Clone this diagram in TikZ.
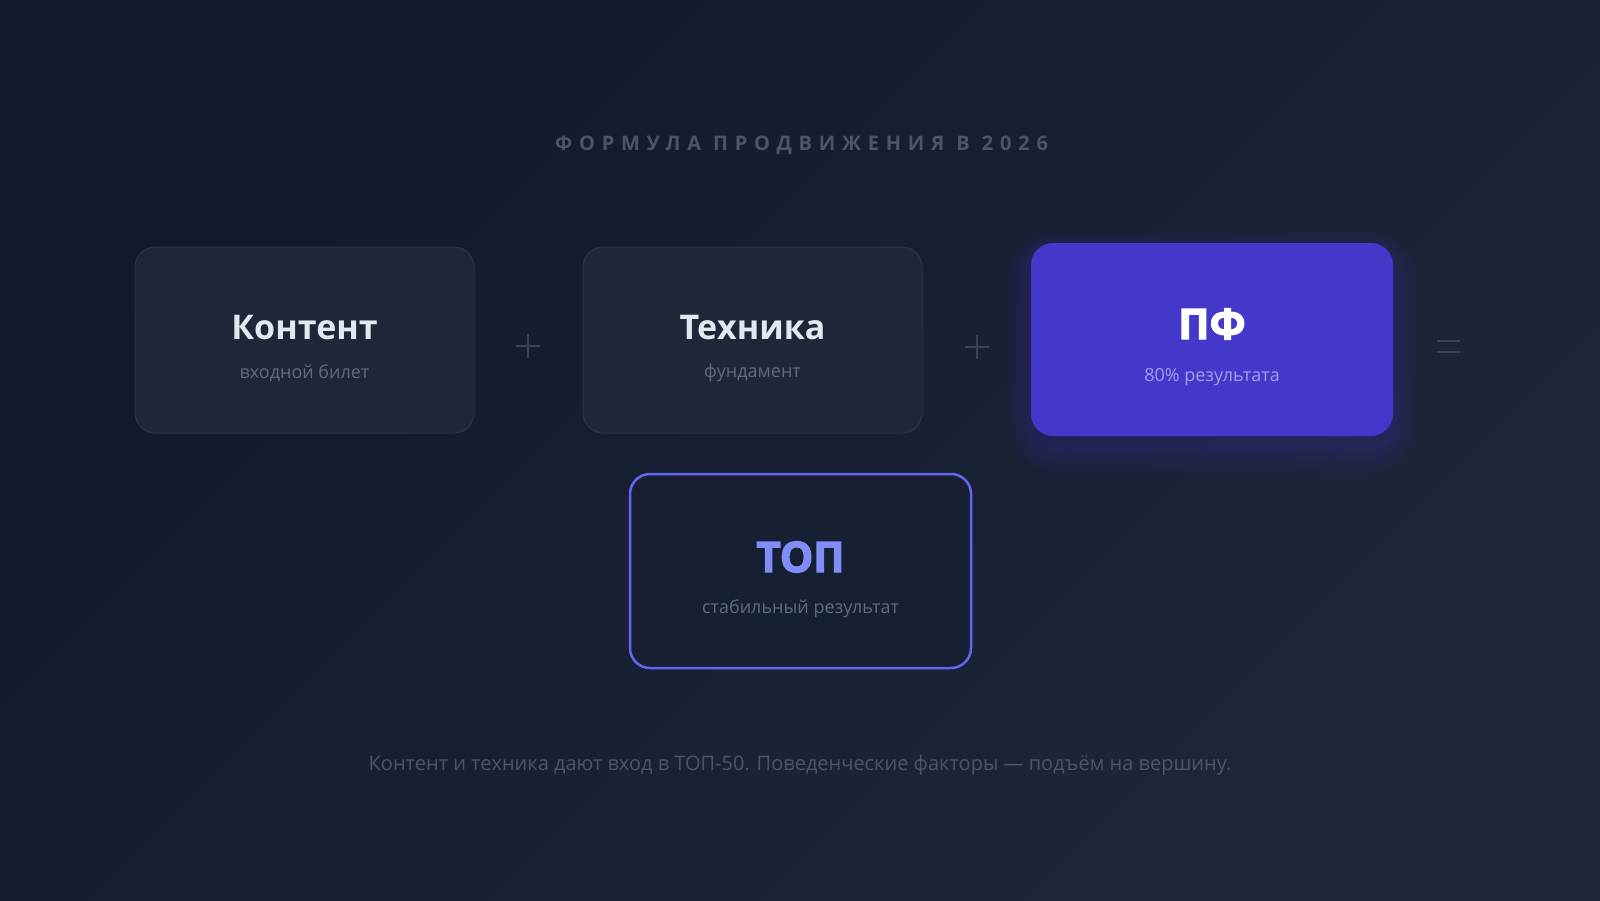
\documentclass[tikz,border=0pt]{standalone}
\usepackage{fontspec}
\setmainfont{Open Sans}
\newfontfamily\spacedfont[LetterSpace=34]{Open Sans}
\newfontfamily\heavyfont[BoldFeatures={FakeBold=3}]{Open Sans}
\usetikzlibrary{calc}
\definecolor{bgA}{HTML}{111A2D}
\definecolor{bgB}{HTML}{1D2739}
\definecolor{cardfill}{HTML}{1E2637}
\definecolor{cardline}{HTML}{2B3446}
\definecolor{headtxt}{HTML}{E2E8F0}
\definecolor{subtxt}{HTML}{5F6B7E}
\definecolor{pffill}{HTML}{4338CA}
\definecolor{pfsub}{HTML}{A39DE8}
\definecolor{topline}{HTML}{6366F1}
\definecolor{toptxt}{HTML}{818CF8}
\definecolor{topfill}{HTML}{171F33}
\definecolor{dimtxt}{HTML}{4B5563}
\definecolor{optxt}{HTML}{3A4354}
\definecolor{glowc}{HTML}{4F46E5}
\begin{document}
\begin{tikzpicture}[x=1pt,y=-1pt,
  card/.style={rounded corners=20pt, fill=cardfill, draw=cardline, line width=1pt,
    minimum width=339pt, minimum height=186pt, inner sep=0pt},
  pfcard/.style={rounded corners=22pt, fill=pffill, draw=none,
    minimum width=362pt, minimum height=193pt, inner sep=0pt},
  topcard/.style={rounded corners=20pt, fill=topfill, draw=topline, line width=2.5pt,
    minimum width=341pt, minimum height=194pt, inner sep=0pt},
  headtext/.style={anchor=base, inner sep=0pt, text=headtxt, font=\fontsize{34}{40}\selectfont\bfseries},
  heavytext/.style={anchor=base, inner sep=0pt, font=\fontsize{42}{46}\selectfont\heavyfont\bfseries},
  subtext/.style={anchor=base, inner sep=0pt, text=subtxt, font=\fontsize{18}{22}\selectfont},
  opline/.style={draw=optxt, line width=2pt},
]
\useasboundingbox (0,0) rectangle (1600,900);
\shade[top color=bgA, bottom color=bgB, shading angle=45] (0,0) rectangle (1600,900);

% title
\node[anchor=base, inner sep=0pt, text=dimtxt, font=\fontsize{20}{24}\selectfont\spacedfont\bfseries]
  (title) at (801.5,150) {ФОРМУЛА ПРОДВИЖЕНИЯ В 2026};

% cards
\node[card] (content) at (304.5,340) {};
\node[headtext] (contenth) at (304.5,339) {Контент};
\node[subtext] (contents) at (304.5,378) {входной билет};

\node[card] (tech) at (752.5,340) {};
\node[headtext] (techh) at (752.5,339) {Техника};
\node[subtext] (techs) at (752.5,377) {фундамент};

% glow of PF
\foreach \i in {1,...,10}{
  \fill[glowc, opacity=0.022, rounded corners=22+2.8*\i]
    (1031-2.4*\i, 243-2.4*\i+10) rectangle (1393+2.4*\i, 436+2.8*\i+10);
}
\node[pfcard] (pf) at (1212,339.5) {};
\node[heavytext, text=white] (pfh) at (1212,339) {ПФ};
\node[subtext, text=pfsub] (pfs) at (1212,381) {80\% результата};

% operators
\coordinate (plusA) at (528,346);
\coordinate (plusB) at (976.5,346.5);
\coordinate (eqC) at (1448.5,346.5);
\draw[opline] ($(plusA)+(-12,0)$) -- ($(plusA)+(12,0)$);
\draw[opline] ($(plusA)+(0,-12)$) -- ($(plusA)+(0,12)$);
\draw[opline] ($(plusB)+(-12,0)$) -- ($(plusB)+(12,0)$);
\draw[opline] ($(plusB)+(0,-12)$) -- ($(plusB)+(0,12)$);
\draw[opline] ($(eqC)+(-11.5,-5.5)$) -- ($(eqC)+(11.5,-5.5)$);
\draw[opline] ($(eqC)+(-11.5,5.5)$) -- ($(eqC)+(11.5,5.5)$);

% TOP card
\node[topcard] (top) at (800.5,571) {};
\node[heavytext, text=toptxt] (toph) at (800.5,572) {ТОП};
\node[subtext] (tops) at (800.5,613) {стабильный результат};

% footer
\node[anchor=base, inner sep=0pt, text=dimtxt, font=\fontsize{20}{24}\selectfont]
  (footer) at (800,770) {Контент и техника дают вход в ТОП-50. Поведенческие факторы — подъём на вершину.};
\end{tikzpicture}
\end{document}
